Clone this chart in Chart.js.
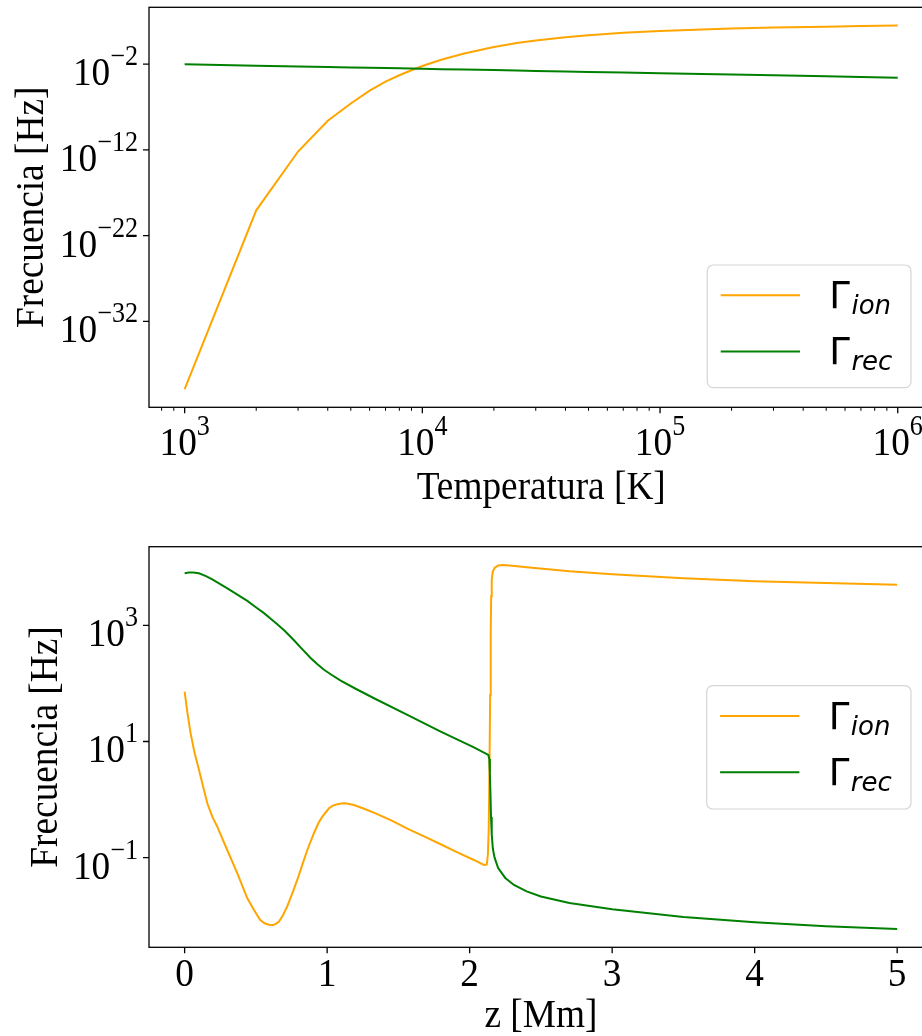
<!DOCTYPE html>
<html><head><meta charset="utf-8">
<script src="https://cdn.jsdelivr.net/npm/chart.js@4.4.1/dist/chart.umd.min.js"></script>
<style>
html,body{margin:0;padding:0;background:#fff;overflow:hidden;width:922px;height:1036px}
canvas{position:absolute;left:0}
#c1{top:0}
#c2{top:520px}
</style></head>
<body>
<canvas id="c1" width="940" height="520"></canvas>
<canvas id="c2" width="940" height="516"></canvas>
<script>
// ---------- Data: top panel (vs temperature) ----------
const tempK = [1000,2000,3000,4000,5000,6000,7000,8000,9000,10000,12000,15000,20000,25000,30000,40000,50000,70000,100000,150000,200000,300000,500000,700000,1000000];
const ionT  = [1.23e-40,8.7e-20,6.3e-13,2.4e-9,2.5e-7,7.94e-6,8.9e-5,5.0e-4,1.9e-3,6.0e-3,3.2e-2,0.170,1.0,2.82,5.75,13.8,23.4,43.7,72.4,110,138,178,229,269,309];
const recT  = [9.3e-3,6.5e-3,5.27e-3,4.54e-3,4.05e-3,3.67e-3,3.40e-3,3.16e-3,2.98e-3,2.82e-3,2.56e-3,2.28e-3,1.97e-3,1.75e-3,1.59e-3,1.37e-3,1.22e-3,1.03e-3,8.5e-4,6.9e-4,5.93e-4,4.81e-4,3.69e-4,3.10e-4,2.57e-4];

// ---------- Data: bottom panel (vs height) ----------
const zIon = [0,0.02,0.042,0.07,0.101,0.13,0.159,0.194,0.229,0.264,0.299,0.37,0.44,0.487,0.529,0.561,0.59,0.62,0.64,0.662,0.69,0.72,0.755,0.791,0.826,0.861,0.907,0.94,0.966,1.013,1.04,1.071,1.10,1.13,1.188,1.25,1.328,1.45,1.563,1.68,1.797,1.91,2.03,2.10,2.12,2.128,2.134,2.139,2.144,2.148,2.151,2.155,2.162,2.175,2.2,2.23,2.3,2.4,2.55,2.7,3.0,3.5,4.0,4.5,5.0];
const ionZ = [71.9,30.9,13.8,6.31,3.23,1.66,0.863,0.508,0.342,0.214,0.1355,0.0537,0.01995,0.0126,0.00851,0.00741,0.0070,0.00692,0.00724,0.00794,0.0102,0.01445,0.024,0.0417,0.0759,0.1355,0.263,0.398,0.508,0.708,0.785,0.832,0.859,0.863,0.807,0.708,0.596,0.437,0.316,0.232,0.170,0.1245,0.0912,0.0748,0.0759,0.112,0.316,3.16,63.1,794,3162,6026,8318,9772,10715,10965,10593,10000,9226,8511,7586,6457,5754,5370,5012];
const zRec = [0,0.03,0.06,0.1,0.15,0.194,0.30,0.44,0.5,0.557,0.6,0.65,0.70,0.767,0.83,0.884,0.93,0.978,1.03,1.095,1.2,1.329,1.563,1.797,2.03,2.131,2.138,2.142,2.146,2.15,2.155,2.163,2.175,2.2,2.25,2.311,2.4,2.5,2.7,3.0,3.5,4.0,4.5,5.0];
const recZ = [7852,8091,8147,7852,7047,6166,4335,2630,2042,1622,1318,1047,813,553,377,274,215,172,141,112,80.9,55.5,28.6,14.8,7.94,5.86,5.01,2.82,1.26,0.501,0.251,0.141,0.1,0.0661,0.0447,0.0339,0.0263,0.0214,0.0166,0.0129,0.00955,0.00776,0.00661,0.00589];

// ---------- Ticks and labels ----------
const topXTicks = [1e3,1e4,1e5,1e6];
const topXTickExp = ['3','4','5','6'];
const topXMinor = [800,900,2000,3000,4000,5000,6000,7000,8000,9000,20000,30000,40000,50000,60000,70000,80000,90000,200000,300000,400000,500000,600000,700000,800000,900000];
const topYTicks = [1e-32,1e-22,1e-12,1e-2];
const topYTickExp = ['\u221232','\u221222','\u221212','\u22122'];
const botXTicks = [0,1,2,3,4,5];
const botXTickLabels = ['0','1','2','3','4','5'];
const botYTicks = [1e-1,1e1,1e3];
const botYTickExp = ['\u22121','1','3'];
const seriesNames = ['ion','rec'];
const yTitle = 'Frecuencia [Hz]';
const topXTitle = 'Temperatura [K]';
const botXTitle = 'z [Mm]';

const ORANGE = '#FFA500', GREEN = '#008000';
const SERIF = '"Liberation Serif","Times New Roman",serif';
const FS = 41, SQ = 0.91, RAISE = 20;

function serifText(ctx, str, x, y, size, align) {
  ctx.save();
  ctx.font = size + 'px ' + SERIF;
  const w = ctx.measureText(str).width * SQ;
  const x0 = align === 'center' ? x - w / 2 : align === 'right' ? x - w : x;
  ctx.translate(x0, y); ctx.scale(SQ, 1);
  ctx.textAlign = 'left'; ctx.textBaseline = 'alphabetic'; ctx.fillStyle = '#000';
  ctx.fillText(str, 0, 0);
  ctx.restore();
  return w;
}
function drawPow(ctx, exp, x, y, align) {
  ctx.font = FS + 'px ' + SERIF;
  const w1 = ctx.measureText('10').width * SQ;
  ctx.font = (FS * 0.7) + 'px ' + SERIF;
  const w2 = ctx.measureText(exp).width * SQ;
  const w = w1 + w2;
  const x0 = align === 'center' ? x - w / 2 : x - w;
  serifText(ctx, '10', x0, y, FS, 'left');
  serifText(ctx, exp, x0 + w1, y - RAISE, FS * 0.7, 'left');
}

function decor(o) {
  return {
    id: 'decor',
    afterDraw(chart) {
      const ctx = chart.ctx, ca = chart.chartArea, xs = chart.scales.x, ys = chart.scales.y;
      ctx.save();
      ctx.strokeStyle = '#000'; ctx.lineWidth = 1.3;
      ctx.strokeRect(ca.left, ca.top, ca.right - ca.left, ca.bottom - ca.top);
      ctx.beginPath();
      o.xTicks.forEach(v => { const p = xs.getPixelForValue(v); ctx.moveTo(p, ca.bottom); ctx.lineTo(p, ca.bottom + 6); });
      o.yTicks.forEach(v => { const p = ys.getPixelForValue(v); ctx.moveTo(ca.left - 6, p); ctx.lineTo(ca.left, p); });
      ctx.stroke();
      if (o.xMinor) {
        ctx.lineWidth = 1; ctx.beginPath();
        o.xMinor.forEach(v => { const p = xs.getPixelForValue(v); ctx.moveTo(p, ca.bottom); ctx.lineTo(p, ca.bottom + 3.5); });
        ctx.stroke();
      }
      o.xTicks.forEach((v, i) => {
        const p = xs.getPixelForValue(v);
        if (o.xExp) drawPow(ctx, o.xExp[i], p, o.xLabelBase, 'center');
        else serifText(ctx, o.xLabels[i], p, o.xLabelBase, FS, 'center');
      });
      o.yTicks.forEach((v, i) => {
        const p = ys.getPixelForValue(v);
        drawPow(ctx, o.yExp[i], ca.left - 11, p + 21, 'right');
      });
      serifText(ctx, o.xTitle, (ca.left + ca.right) / 2, o.xTitleBase, FS, 'center');
      ctx.save();
      ctx.translate(o.yTitleX, (ca.top + ca.bottom) / 2);
      ctx.rotate(-Math.PI / 2);
      serifText(ctx, yTitle, 0, 0, FS, 'center');
      ctx.restore();
      const L = o.legend;
      ctx.save();
      ctx.beginPath();
      ctx.roundRect(L.x, L.y, L.w, L.h, 6);
      ctx.fillStyle = 'rgba(255,255,255,0.8)'; ctx.fill();
      ctx.strokeStyle = '#d5d5d5'; ctx.lineWidth = 1.2; ctx.stroke();
      const cols = [ORANGE, GREEN];
      [30.3, 86.5].forEach((dy, i) => {
        const ly = L.y + dy;
        ctx.strokeStyle = cols[i]; ctx.lineWidth = 2;
        ctx.beginPath(); ctx.moveTo(L.x + 13.4, ly); ctx.lineTo(L.x + 92.7, ly); ctx.stroke();
        ctx.fillStyle = '#000'; ctx.textAlign = 'left'; ctx.textBaseline = 'alphabetic';
        ctx.font = '37px "DejaVu Sans"';
        const gx = L.x + 122;
        ctx.fillText('\u0393', gx, ly + 12.8);
        const gw = ctx.measureText('\u0393').width;
        ctx.font = 'italic 26px "DejaVu Sans"';
        ctx.fillText(seriesNames[i], gx + gw + 1.5, ly + 18.5);
      });
      ctx.restore();
      ctx.restore();
    }
  };
}

function makeChart(id, o) {
  return new Chart(document.getElementById(id), {
    type: 'line',
    data: { datasets: [
      { label: 'rec', data: o.rec, borderColor: GREEN, borderWidth: 2, pointRadius: 0, fill: false, tension: 0 },
      { label: 'ion', data: o.ion, borderColor: ORANGE, borderWidth: 2, pointRadius: 0, fill: false, tension: 0 }
    ] },
    options: {
      responsive: false, animation: false, devicePixelRatio: 1,
      layout: { padding: { left: 0, top: o.top, right: o.W - o.right, bottom: 0 } },
      plugins: { legend: { display: false }, tooltip: { enabled: false } },
      scales: {
        x: { type: o.xType, min: o.xMin, max: o.xMax, ticks: { display: false }, grid: { display: false }, border: { display: false },
             afterFit: s => { s.height = o.H - o.bottom; } },
        y: { type: 'logarithmic', min: o.yMin, max: o.yMax, ticks: { display: false }, grid: { display: false }, border: { display: false },
             afterFit: s => { s.width = o.left; } }
      }
    },
    plugins: [decor(o)]
  });
}

makeChart('c1', {
  W: 940, H: 520, left: 149, right: 933.4, top: 7.3, bottom: 407.3,
  xType: 'logarithmic', xMin: Math.pow(10, 2.85), xMax: Math.pow(10, 6.15),
  yMin: Math.pow(10, -42.03), yMax: Math.pow(10, 4.62),
  ion: tempK.map((t, i) => ({ x: t, y: ionT[i] })),
  rec: tempK.map((t, i) => ({ x: t, y: recT[i] })),
  xTicks: topXTicks, xExp: topXTickExp, xMinor: topXMinor,
  yTicks: topYTicks, yExp: topYTickExp,
  xLabelBase: 455, xTitleBase: 499, yTitleX: 43, xTitle: topXTitle,
  legend: { x: 707.3, y: 265, w: 203.7, h: 122.7 }
});

makeChart('c2', {
  W: 940, H: 516, left: 149, right: 932.8, top: 26.7, bottom: 427.3,
  xType: 'linear', xMin: -0.25, xMax: 5.25,
  yMin: Math.pow(10, -2.5435), yMax: Math.pow(10, 4.3535),
  ion: zIon.map((z, i) => ({ x: z, y: ionZ[i] })),
  rec: zRec.map((z, i) => ({ x: z, y: recZ[i] })),
  xTicks: botXTicks, xLabels: botXTickLabels,
  yTicks: botYTicks, yExp: botYTickExp,
  xLabelBase: 466, xTitleBase: 507, yTitleX: 57, xTitle: botXTitle,
  legend: { x: 706.7, y: 165.7, w: 204.3, h: 123.3 }
});
</script>
</body></html>
